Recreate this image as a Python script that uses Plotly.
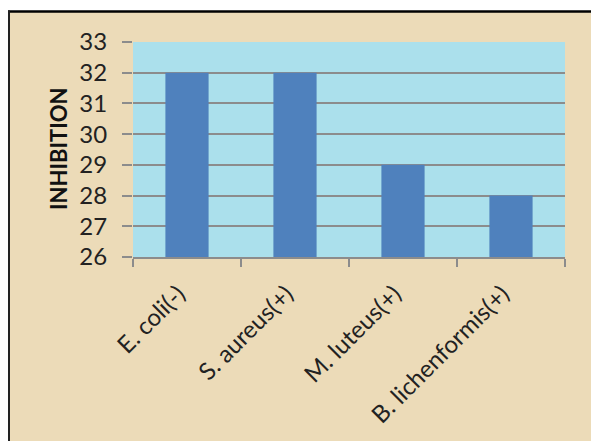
import plotly.graph_objects as go

categories = ["E. coli(-)", "S. aureus(+)", "M. luteus(+)", "B. lichenformis(+)"]
inhibition = [32, 32, 29, 28]
y_ticks = [26, 27, 28, 29, 30, 31, 32, 33]
y_title = "INHIBITION"

W, H = 591, 441
L, R, T, B = 133, 565, 42, 257  # plot area in pixels

def px(x):
    return (x - L) / (R - L)

def py(y):
    return (B - y) / (B - T)

fig = go.Figure(go.Bar(
    x=categories, y=inhibition, width=0.4,
    marker=dict(color="#4F81BD", line=dict(width=0)),
))

font = "Lato, Carlito, 'Open Sans', sans-serif"

fig.update_layout(
    width=W, height=H,
    margin=dict(l=L, r=W - R, t=T, b=H - B, pad=0),
    paper_bgcolor="#ECDBB8",
    plot_bgcolor="#ABE0EC",
    showlegend=False,
    font=dict(family=font, color="#222222"),
    xaxis=dict(
        type="category", tickson="boundaries", ticks="outside", ticklen=8,
        tickcolor="#8c8c8c", tickwidth=1.5,
        tickvals=categories, ticktext=[c + "\u00a0\u00a0" for c in categories],
        showline=True, linecolor="#8c8c8c", linewidth=1.5,
        showgrid=False, tickangle=-45, tickfont=dict(size=24, color="#222222"),
        ticklabelstandoff=3,
        automargin=False,
    ),
    yaxis=dict(
        range=[26, 33], tickvals=y_ticks, ticks="outside", ticklen=10,
        tickcolor="#8c8c8c", tickwidth=1.5,
        showgrid=True, gridcolor="#8c8c8c", gridwidth=1.5,
        showline=False, zeroline=False, ticklabelstandoff=10,
        tickfont=dict(size=24, color="#222222"), automargin=False,
    ),
    annotations=[dict(
        text="<b>" + y_title + "</b>", textangle=-90,
        xref="paper", yref="paper", x=px(58), y=py(149),
        xanchor="center", yanchor="middle", showarrow=False,
        font=dict(size=22, color="#111111", family=font),
    )],
    shapes=[
        dict(type="rect", xref="paper", yref="paper", x0=px(-5), x1=px(W + 5),
             y0=py(11), y1=py(-5), fillcolor="white", line=dict(width=0)),
        dict(type="rect", xref="paper", yref="paper", x0=px(-5), x1=px(8),
             y0=py(H + 5), y1=py(-5), fillcolor="white", line=dict(width=0)),
        dict(type="line", xref="paper", yref="paper", x0=px(8), x1=px(W + 5),
             y0=py(11.5), y1=py(11.5), line=dict(color="black", width=2.5)),
        dict(type="line", xref="paper", yref="paper", x0=px(9), x1=px(9),
             y0=py(10.5), y1=py(H + 5), line=dict(color="#222222", width=2)),
    ],
)

fig.write_html("out.html")
